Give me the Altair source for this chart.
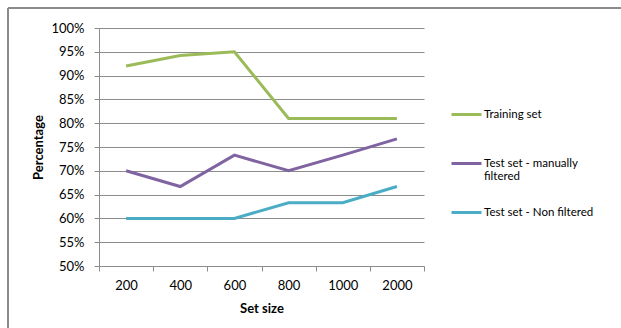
import altair as alt
import pandas as pd

# Set sizes on the x axis (categorical, evenly spaced)
set_sizes = ["200", "400", "600", "800", "1000", "2000"]

# Percentages per series
training = [92.0, 94.2, 95.0, 81.0, 81.0, 81.0]
manually_filtered = [70.0, 66.7, 73.3, 70.0, 73.3, 76.7]
non_filtered = [60.0, 60.0, 60.0, 63.3, 63.3, 66.7]

series_names = ["Training set", "Test set - manually filtered", "Test set - Non filtered"]
series_colors = ["#9BBB59", "#8064A2", "#4BACC6"]

rows = []
for name, vals in zip(series_names, [training, manually_filtered, non_filtered]):
    for s, v in zip(set_sizes, vals):
        rows.append({"Set size": s, "Percentage": v, "Series": name})
df = pd.DataFrame(rows)

FONT = "Lato"
GRID = "#8C8C8C"

# Every legend label is laid out on two lines so all entries share one row height
legend_label_expr = (
    "datum.label == 'Test set - manually filtered' "
    "? ['Test set - manually', 'filtered'] : [datum.label, '']"
)

lines = alt.Chart(df).mark_line(strokeWidth=3, strokeCap="butt").encode(
    x=alt.X(
        "Set size:N",
        sort=set_sizes,
        scale=alt.Scale(paddingInner=0, paddingOuter=0),
        axis=alt.Axis(
            title="Set size",
            labelAngle=0,
            tickBand="extent",
            tickSize=5,
            tickColor=GRID,
            domainColor=GRID,
            labelPadding=8,
            labelFontSize=13,
            titlePadding=10,
            titleFontSize=13,
            titleFontWeight="bold",
            grid=False,
        ),
    ),
    y=alt.Y(
        "Percentage:Q",
        scale=alt.Scale(domain=[50, 100], nice=False),
        axis=alt.Axis(
            title="Percentage",
            values=list(range(50, 101, 5)),
            labelExpr="datum.value + '%'",
            tickSize=5,
            tickColor=GRID,
            domainColor=GRID,
            gridColor=GRID,
            labelPadding=10,
            labelFontSize=13,
            titlePadding=5,
            titleFontSize=13,
            titleFontWeight="bold",
        ),
    ),
    color=alt.Color(
        "Series:N",
        scale=alt.Scale(domain=series_names, range=series_colors),
        legend=alt.Legend(
            title=None,
            orient="none",
            legendX=351,
            legendY=70,
            symbolType="stroke",
            symbolSize=900,
            symbolStrokeWidth=3,
            labelFontSize=11.5,
            labelOffset=1,
            rowPadding=13,
            labelExpr=legend_label_expr,
        ),
    ),
)

# Outer frame of the chart (top and left edges)
frame_top = alt.Chart(df).mark_rule(color="#8A8A8A", strokeWidth=1).encode(
    x=alt.value(-91), x2=alt.value(530), y=alt.value(-20)
)
frame_left = alt.Chart(df).mark_rule(color="#8A8A8A", strokeWidth=1).encode(
    x=alt.value(-91), y=alt.value(-20), y2=alt.value(310)
)

chart = (
    alt.layer(frame_top, frame_left, lines)
    .properties(
        width=325,
        height=238,
        padding={"left": 99, "top": 28, "right": 197, "bottom": 62},
        autosize=alt.AutoSizeParams(type="none"),
    )
    .configure(font=FONT)
    .configure_view(stroke=None)
    .configure_axis(labelColor="#000000", titleColor="#000000", labelFont=FONT, titleFont=FONT)
    .configure_legend(labelFont=FONT, labelColor="#000000")
)

chart.save("out.html", embed_options={"renderer": "svg", "actions": False})
